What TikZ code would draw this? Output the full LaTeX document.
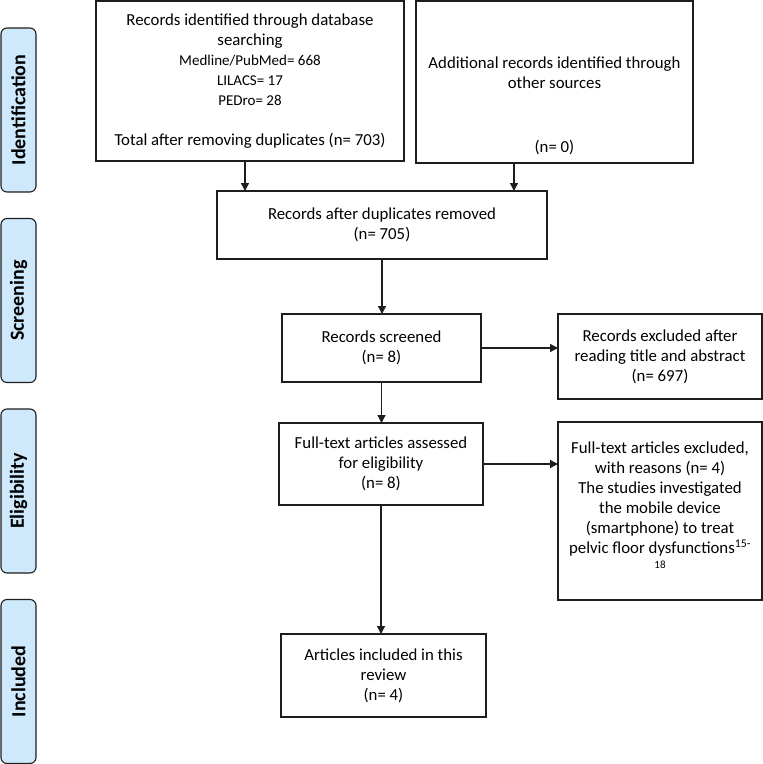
\documentclass[tikz,border=0pt]{standalone}
\usepackage{fontspec}
\setmainfont{Carlito}
\usetikzlibrary{positioning}
\usetikzlibrary{calc}
\usetikzlibrary{arrows.meta}
\definecolor{stageblue}{RGB}{205,233,251}
\definecolor{linegray}{RGB}{30,30,30}

\begin{document}
\begin{tikzpicture}
    [x=1pt, y=-1pt,
    box/.style={draw=linegray, line width=1.3pt, inner sep=0pt, outer sep=0pt, align=center, font=\fontsize{16.8}{20}\selectfont},
    stage/.style={draw=linegray, fill=stageblue, line width=1.1pt, rounded corners=6pt, rotate=90, minimum width=164pt, minimum height=35pt, inner sep=0pt, font=\bfseries\fontsize{20}{22}\selectfont},
    link/.style={->, draw=linegray, line width=1.3pt},
    >={Triangle[length=8pt, width=8pt]}]
     \useasboundingbox (0, 0) rectangle (763, 764);
     %\draw[step=50pt,gray,very thin] (0,0) grid (763,764);
     \node[stage] (s1) at (18.5, 110)   {Identification};
     \node[stage] (s2) at (18.5, 300.5) {Screening};
     \node[stage] (s3) at (18.5, 491)   {Eligibility};
     \node[stage] (s4) at (18.5, 681.5) {Included};
     \node[box, minimum width=308pt, minimum height=160pt] (ident) at (250, 81)
          {Records identified through database\\ searching\\
           {\fontsize{15}{19}\selectfont Medline/PubMed= 668}\\
           {\fontsize{15}{19}\selectfont LILACS= 17}\\
           {\fontsize{15}{19}\selectfont PEDro= 28}\\ ~\\
           Total after removing duplicates (n= 703)};
     \node[box, minimum width=277pt, minimum height=162pt] (other) at (554.5, 82)
          {~\\ ~\\ ~\\ Additional records identified through\\ other sources\\ ~\\ ~\\[4pt] (n= 0)};
     \node[box, minimum width=330pt, minimum height=68pt] (dupl) at (382, 225)
          {Records after duplicates removed\\ (n= 705)};
     \node[box, minimum width=199pt, minimum height=68pt] (screened) at (381.5, 348)
          {Records screened\\ (n= 8)};
     \node[box, minimum width=204pt, minimum height=85pt] (excl) at (660, 356.5)
          {Records excluded after\\ reading title and abstract\\ (n= 697)};
     \node[box, minimum width=204pt, minimum height=82pt] (fulltext) at (381, 464)
          {Full-text articles assessed\\ for eligibility\\ (n= 8)};
     \node[box, minimum width=204pt, minimum height=178pt] (reasons) at (660, 511)
          {Full-text articles excluded,\\ with reasons (n= 4)\\ The studies investigated\\
           the mobile device\\ (smartphone) to treat\\
           pelvic floor dysfunctions\textsuperscript{15-}\\[-5pt] {\fontsize{11}{16}\selectfont 18}\\[-8pt] ~};
     \node[box, minimum width=205pt, minimum height=83pt] (incl) at (383.5, 675.5)
          {Articles included in this\\ review\\ (n= 4)};
     \draw[link] ($(ident.south)+(-5,0)$) -- ($(ident.south |- dupl.north)+(-5,0)$);
     \draw[link] ($(other.south)+(-40.5,0)$) -- ($(other.south |- dupl.north)+(-40.5,0)$);
     \draw[link] (dupl.south) -- (dupl.south |- screened.north);
     \draw[link] (screened.east) -- (screened.east -| excl.west);
     \draw[link] (screened.south) -- (screened.south |- fulltext.north);
     \draw[link] (fulltext.east) -- (fulltext.east -| reasons.west);
     \draw[link] (fulltext.south) -- (fulltext.south |- incl.north);
\end{tikzpicture}
\end{document}
